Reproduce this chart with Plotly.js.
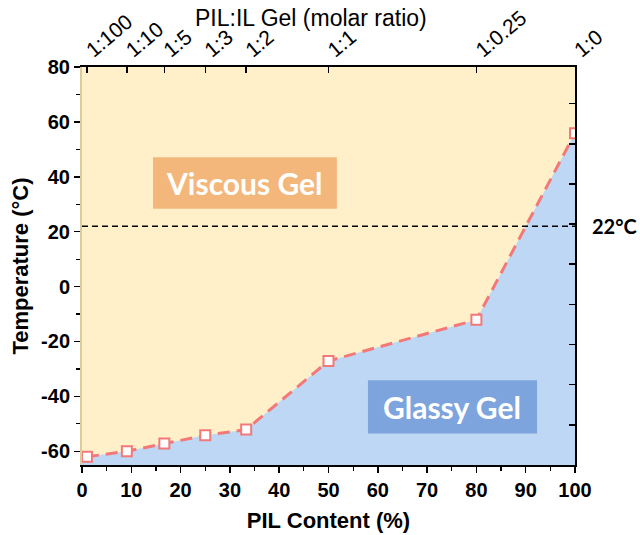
<!DOCTYPE html>
<html>
<head>
<meta charset="utf-8">
<script src="https://cdn.plot.ly/plotly-3.0.1.min.js"></script>
<style>html,body{margin:0;padding:0;background:#fff;}#chart{width:640px;height:535px;}</style>
</head>
<body>
<div id="chart"></div>
<script>
// Data
const pilContent = [1, 9.1, 16.7, 25, 33.3, 50, 80, 100];
const temperature = [-62, -60, -57.2, -54.2, -52.1, -27.1, -12.1, 55.9];
const ratioLabels = ['1:100', '1:10', '1:5', '1:3', '1:2', '1:1', '1:0.25', '1:0'];
const yTickVals = [-60, -40, -20, 0, 20, 40, 60, 80];
const yTickText = ['-60', '-40', '-20', '0', '20', '40', '60', '80'];
const refTemp = 22;
const xRange = [0, 100];
const yRange = [-65, 80];
const rightTicks = [-50.4, -35.7, -21.1, -6.5, 8.2, 22.8, 37.4, 52.0, 66.7];

const fillX = [xRange[0]].concat(pilContent, [xRange[1], xRange[0]]);
const fillY = [temperature[0]].concat(temperature, [yRange[0], yRange[0]]);

const font = 'Liberation Sans, Arial, sans-serif';

const traces = [
  {x: fillX, y: fillY, type: 'scatter', mode: 'none', fill: 'toself',
   fillcolor: '#BDD7F5', hoverinfo: 'skip', showlegend: false},
  {x: pilContent, y: temperature, type: 'scatter', mode: 'lines+markers',
   line: {color: '#F37878', width: 3, dash: '12px,7px'},
   marker: {symbol: 'square', size: 10, color: '#FFFFFF', line: {color: '#F37878', width: 2}},
   showlegend: false},
  {x: pilContent, y: temperature, xaxis: 'x2', yaxis: 'y2', type: 'scatter', mode: 'none',
   hoverinfo: 'skip', showlegend: false}
];

const layout = {
  width: 640, height: 535,
  margin: {l: 82, r: 65, t: 67, b: 70},
  paper_bgcolor: '#FFFFFF',
  plot_bgcolor: '#FFF0C9',
  font: {family: font, color: '#000'},
  xaxis: {
    range: xRange, dtick: 10, tick0: 0, ticks: 'outside', ticklen: 6, tickwidth: 1.5, tickcolor: '#000',
    minor: {dtick: 5, ticks: 'outside', ticklen: 4, tickcolor: '#000', tickwidth: 1.2},
    showline: true, linecolor: '#000', linewidth: 2, showgrid: false, zeroline: false,
    tickfont: {size: 20, family: font, weight: 'bold'},
    title: {text: 'PIL Content (%)', font: {size: 22, family: font, weight: 'bold'}, standoff: 13}
  },
  xaxis2: {
    range: xRange, overlaying: 'x', side: 'top', anchor: 'y',
    tickmode: 'array', tickvals: pilContent, ticktext: ratioLabels, tickangle: -40,
    ticks: 'inside', ticklen: 6, tickwidth: 1.5, tickcolor: '#000', ticklabelstandoff: -4,
    showline: true, linecolor: '#000', linewidth: 2, showgrid: false, zeroline: false,
    tickfont: {size: 21, family: font}
  },
  yaxis: {
    range: yRange, tickmode: 'array', tickvals: yTickVals, ticktext: yTickText,
    ticks: 'outside', ticklen: 6, tickwidth: 1.5, tickcolor: '#000',
    minor: {tickvals: [-50, -30, -10, 10, 30, 50, 70], ticks: 'outside', ticklen: 4, tickcolor: '#000', tickwidth: 1.2},
    showline: true, linecolor: '#DCCB9C', linewidth: 2, showgrid: false, zeroline: false,
    tickfont: {size: 20, family: font, weight: 'bold'},
    title: {text: 'Temperature (°C)', font: {size: 22, family: font, weight: 'bold'}, standoff: 6}
  },
  yaxis2: {
    range: yRange, overlaying: 'y', side: 'right', anchor: 'x',
    tickmode: 'array', tickvals: rightTicks, showticklabels: false,
    ticks: 'inside', ticklen: 6, tickwidth: 1.5, tickcolor: '#000',
    showline: true, linecolor: '#000', linewidth: 2, showgrid: false, zeroline: false
  },
  shapes: [
    {type: 'line', xref: 'x', yref: 'y', x0: xRange[0], x1: xRange[1], y0: refTemp, y1: refTemp,
     line: {color: '#000', width: 1.5, dash: '6px,4px'}},
    {type: 'rect', xref: 'x', yref: 'y', x0: 14.4, x1: 51.7, y0: 28.4, y1: 47.1,
     fillcolor: '#F4B77B', line: {width: 0}, layer: 'above'},
    {type: 'rect', xref: 'x', yref: 'y', x0: 58, x1: 92.3, y0: -53.5, y1: -34.1,
     fillcolor: '#7DA4DC', line: {width: 0}, layer: 'above'}
  ],
  annotations: [
    {text: 'Viscous Gel', xref: 'x', yref: 'y', x: 33.05, y: 37.8, showarrow: false,
     font: {family: 'Lato, sans-serif', size: 30, color: '#FFFFFF', weight: 'bold'}},
    {text: 'Glassy Gel', xref: 'x', yref: 'y', x: 75.15, y: -43.8, showarrow: false,
     font: {family: 'Lato, sans-serif', size: 30, color: '#FFFFFF', weight: 'bold'}},
    {text: '22°C', xref: 'paper', yref: 'y', x: 1.03, xanchor: 'left', y: refTemp, yanchor: 'middle', showarrow: false,
     font: {family: 'Lato, sans-serif', size: 20, color: '#000', weight: 'bold'}},
    {text: 'PIL:IL Gel (molar ratio)', xref: 'paper', yref: 'paper', x: 0.465, y: 1.0, yanchor: 'middle', yshift: 49,
     showarrow: false, font: {family: font, size: 23, color: '#000'}}
  ]
};

Plotly.newPlot('chart', traces, layout, {displayModeBar: false, staticPlot: true});
</script>
</body>
</html>
